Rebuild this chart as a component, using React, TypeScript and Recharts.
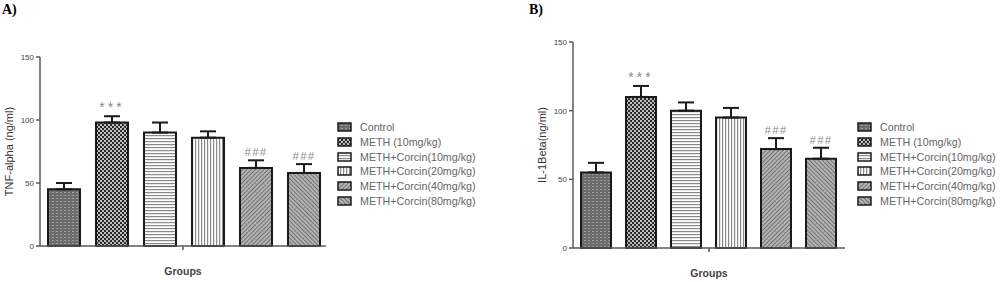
import { BarChart, Bar, XAxis, YAxis, ErrorBar, LabelList } from 'recharts';

const groups = [
  'Control',
  'METH (10mg/kg)',
  'METH+Corcin(10mg/kg)',
  'METH+Corcin(20mg/kg)',
  'METH+Corcin(40mg/kg)',
  'METH+Corcin(80mg/kg)',
];
const tnfMeans = [45, 98, 90, 86, 62, 58];
const tnfErrors = [5, 5, 8, 5, 6, 7];
const ilMeans = [55, 110, 100, 95, 72, 65];
const ilErrors = [7, 8, 6, 7, 8, 8];
const marks = ['', '***', '', '', '###', '###'];
const yTicks = [0, 50, 100, 150];

const FONT = '"Liberation Sans", Arial, sans-serif';
const AXIS = '#5a5a5a';

function buildRow(means: number[], errors: number[]) {
  const row: Record<string, any> = { name: 'Groups' };
  means.forEach((m, i) => {
    row[`v${i}`] = m;
    row[`e${i}`] = [0, errors[i]];
  });
  return [row];
}

function Patterns() {
  return (
    <svg width={0} height={0} style={{ position: 'absolute' }}>
      <defs>
        <pattern id="p0" width="4" height="3" patternUnits="userSpaceOnUse">
          <rect width="4" height="3" fill="#6c6c6c" />
          <rect x="0" y="0" width="2" height="1" fill="#9c9c9c" />
        </pattern>
        <pattern id="p1" width="4" height="4" patternUnits="userSpaceOnUse">
          <rect width="4" height="4" fill="#2a2a2a" />
          <circle cx="1" cy="1" r="1" fill="#eee" />
          <circle cx="3" cy="3" r="1" fill="#eee" />
        </pattern>
        <pattern id="p2" width="4" height="3" patternUnits="userSpaceOnUse">
          <rect width="4" height="3" fill="#fff" />
          <rect x="0" y="0" width="4" height="1.2" fill="#8a8a8a" />
        </pattern>
        <pattern id="p3" width="3" height="4" patternUnits="userSpaceOnUse">
          <rect width="3" height="4" fill="#fff" />
          <rect x="0" y="0" width="1.2" height="4" fill="#8a8a8a" />
        </pattern>
        <pattern id="p4" width="3" height="3" patternUnits="userSpaceOnUse" patternTransform="rotate(45)">
          <rect width="3" height="3" fill="#b4b4b4" />
          <rect x="0" y="0" width="1" height="3" fill="#707070" />
        </pattern>
        <pattern id="p5" width="3" height="3" patternUnits="userSpaceOnUse" patternTransform="rotate(-45)">
          <rect width="3" height="3" fill="#b4b4b4" />
          <rect x="0" y="0" width="1" height="3" fill="#707070" />
        </pattern>
      </defs>
    </svg>
  );
}

function markRenderer(mark: string, mean: number, err: number) {
  return (props: any) => {
    if (!mark) return null;
    const { x, y, width, height } = props;
    const top = y - (err * height) / mean;
    const isStar = mark === '***';
    return (
      <text
        x={x + width / 2}
        y={top - 4}
        textAnchor="middle"
        fill="#8a8a8a"
        fontSize={isStar ? 14 : 11}
        fontStyle={isStar ? 'normal' : 'italic'}
        letterSpacing={isStar ? 3 : 1.5}
        fontFamily={FONT}
      >
        {mark}
      </text>
    );
  };
}

interface PanelProps {
  means: number[];
  errors: number[];
  yLabel: string;
  width: number;
  margin: { top: number; right: number; bottom: number; left: number };
  barGap: number;
}

function Panel({ means, errors, yLabel, width, margin, barGap }: PanelProps) {
  const data = buildRow(means, errors);
  return (
    <BarChart width={width} height={282} data={data} margin={margin} barGap={barGap} barCategoryGap={8}>
      <XAxis
        dataKey="name"
        height={30}
        stroke={AXIS}
        strokeWidth={1.5}
        tickSize={4}
        tickFormatter={() => ''}
        label={{
          value: 'Groups',
          position: 'insideBottom',
          offset: 1,
          style: { fontFamily: FONT, fontSize: 10.5, fontWeight: 700, fill: '#444' },
        }}
      />
      <YAxis
        width={40}
        domain={[0, 150]}
        ticks={yTicks}
        stroke={AXIS}
        strokeWidth={1.5}
        tickSize={4}
        tick={{ fontFamily: FONT, fontSize: 8, fill: '#444' }}
        label={{
          value: yLabel,
          angle: -90,
          position: 'insideLeft',
          offset: 9,
          style: { fontFamily: FONT, fontSize: 11, fill: '#333', textAnchor: 'middle' },
        }}
      />
      {means.map((m, i) => (
        <Bar
          key={i}
          dataKey={`v${i}`}
          name={groups[i]}
          fill={`url(#p${i})`}
          stroke="#1a1a1a"
          strokeWidth={2}
          isAnimationActive={false}
        >
          <ErrorBar dataKey={`e${i}`} width={8} stroke="#1a1a1a" strokeWidth={2} direction="y" />
          <LabelList dataKey={`v${i}`} content={markRenderer(marks[i], m, errors[i])} />
        </Bar>
      ))}
    </BarChart>
  );
}

function GroupLegend({ left, top }: { left: number; top: number }) {
  return (
    <div style={{ position: 'absolute', left, top, fontFamily: FONT, fontSize: 10.7, color: '#666' }}>
      {groups.map((g, i) => (
        <div key={g} style={{ display: 'flex', alignItems: 'center', height: 14.7 }}>
          <svg width={15} height={10} style={{ marginRight: 8 }}>
            <rect x={1} y={1} width={13} height={8} fill={`url(#p${i})`} stroke="#1a1a1a" strokeWidth={1.5} />
          </svg>
          <span style={{ whiteSpace: 'nowrap' }}>{g}</span>
        </div>
      ))}
    </div>
  );
}

export default function App() {
  return (
    <div style={{ position: 'absolute', left: 0, top: 0, width: 1000, height: 282, background: '#fff', overflow: 'hidden' }}>
      <Patterns />
      <div style={{ position: 'absolute', left: 2, top: 2, fontFamily: 'Liberation Serif, serif', fontWeight: 700, fontSize: 14 }}>A)</div>
      <div style={{ position: 'absolute', left: 529, top: 2, fontFamily: 'Liberation Serif, serif', fontWeight: 700, fontSize: 14 }}>B)</div>
      <div style={{ position: 'absolute', left: 0, top: 0 }}>
        <Panel
          means={tnfMeans}
          errors={tnfErrors}
          yLabel="TNF-alpha (ng/ml)"
          width={330}
          margin={{ top: 57, right: 4, bottom: 6, left: 0 }}
          barGap={16}
        />
      </div>
      <GroupLegend left={337} top={120} />
      <div style={{ position: 'absolute', left: 500, top: 0 }}>
        <Panel
          means={ilMeans}
          errors={ilErrors}
          yLabel="IL-1Beta(ng/ml)"
          width={350}
          margin={{ top: 42, right: 5, bottom: 4, left: 33 }}
          barGap={15}
        />
      </div>
      <GroupLegend left={857} top={120} />
    </div>
  );
}
